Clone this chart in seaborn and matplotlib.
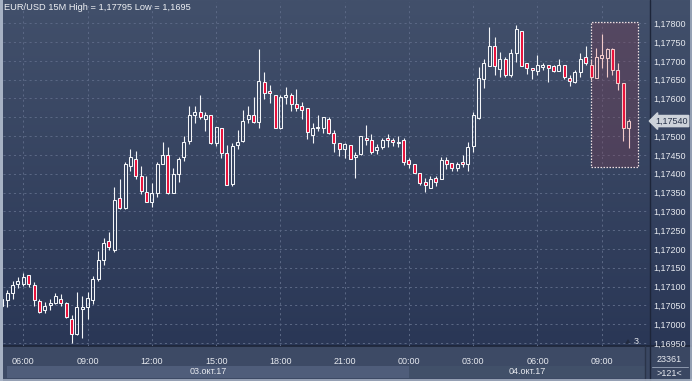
import numpy as np
import pandas as pd
import matplotlib
matplotlib.use("Agg")
import matplotlib.pyplot as plt
import matplotlib.transforms as mtransforms
from matplotlib.patches import Rectangle, Polygon
import seaborn as sns

# ---------------- data ----------------
title_text = "EUR/USD 15M High = 1,17795 Low = 1,1695"
start_time = "2017-10-03 05:00"

open_ = [1.17049, 1.17063, 1.17083, 1.17108, 1.17107, 1.17130, 1.17103, 1.17062, 1.17038, 1.17050,
         1.17055, 1.17068, 1.17056, 1.17013, 1.16973, 1.17041, 1.17045, 1.17064, 1.17119, 1.17170,
         1.17220, 1.17198, 1.17335, 1.17308, 1.17420, 1.17438, 1.17393, 1.17352, 1.17324, 1.17350,
         1.17425, 1.17449, 1.17350, 1.17398, 1.17444, 1.17488, 1.17555, 1.17563, 1.17545, 1.17556,
         1.17482, 1.17521, 1.17454, 1.17372, 1.17476, 1.17488, 1.17545, 1.17555, 1.17538, 1.17645,
         1.17620, 1.17608, 1.17521, 1.17603, 1.17608, 1.17585, 1.17579, 1.17574, 1.17504, 1.17521,
         1.17522, 1.17545, 1.17509, 1.17482, 1.17465, 1.17476, 1.17444, 1.17453, 1.17494, 1.17490,
         1.17464, 1.17470, 1.17494, 1.17490, 1.17482, 1.17490, 1.17436, 1.17425, 1.17403, 1.17379,
         1.17363, 1.17389, 1.17385, 1.17436, 1.17429, 1.17414, 1.17430, 1.17425, 1.17474, 1.17549,
         1.17652, 1.17687, 1.17740, 1.17678, 1.17704, 1.17663, 1.17720, 1.17780, 1.17694, 1.17680,
         1.17674, 1.17685, 1.17689, 1.17686, 1.17674, 1.17689, 1.17655, 1.17645, 1.17670, 1.17710,
         1.17689, 1.17654, 1.17709, 1.17709, 1.17732, 1.17676, 1.17640, 1.17521]
high = [1.17075, 1.17092, 1.17115, 1.17126, 1.17135, 1.17130, 1.17113, 1.17068, 1.17059, 1.17066,
        1.17082, 1.17080, 1.17059, 1.17024, 1.17085, 1.17075, 1.17086, 1.17129, 1.17194, 1.17228,
        1.17246, 1.17365, 1.17385, 1.17432, 1.17465, 1.17460, 1.17420, 1.17394, 1.17374, 1.17432,
        1.17485, 1.17470, 1.17414, 1.17444, 1.17500, 1.17580, 1.17580, 1.17609, 1.17563, 1.17556,
        1.17523, 1.17521, 1.17476, 1.17481, 1.17516, 1.17569, 1.17580, 1.17605, 1.17731, 1.17670,
        1.17636, 1.17608, 1.17609, 1.17630, 1.17614, 1.17624, 1.17591, 1.17574, 1.17534, 1.17556,
        1.17552, 1.17552, 1.17516, 1.17482, 1.17482, 1.17476, 1.17458, 1.17501, 1.17530, 1.17506,
        1.17479, 1.17494, 1.17506, 1.17494, 1.17500, 1.17494, 1.17443, 1.17425, 1.17403, 1.17388,
        1.17395, 1.17395, 1.17445, 1.17444, 1.17429, 1.17432, 1.17450, 1.17485, 1.17565, 1.17685,
        1.17704, 1.17791, 1.17764, 1.17724, 1.17711, 1.17731, 1.17795, 1.17780, 1.17694, 1.17680,
        1.17716, 1.17695, 1.17689, 1.17689, 1.17705, 1.17689, 1.17663, 1.17676, 1.17720, 1.17740,
        1.17702, 1.17734, 1.17772, 1.17734, 1.17734, 1.17694, 1.17640, 1.17545]
low = [1.17043, 1.17045, 1.17068, 1.17097, 1.17101, 1.17098, 1.17049, 1.17029, 1.17029, 1.17037,
       1.17053, 1.17048, 1.17016, 1.16950, 1.16971, 1.16964, 1.17013, 1.17053, 1.17115, 1.17157,
       1.17197, 1.17192, 1.17305, 1.17305, 1.17408, 1.17385, 1.17345, 1.17324, 1.17312, 1.17339,
       1.17425, 1.17345, 1.17348, 1.17379, 1.17434, 1.17479, 1.17534, 1.17545, 1.17514, 1.17478,
       1.17474, 1.17443, 1.17369, 1.17367, 1.17465, 1.17483, 1.17534, 1.17534, 1.17522, 1.17599,
       1.17589, 1.17521, 1.17518, 1.17585, 1.17568, 1.17568, 1.17545, 1.17493, 1.17482, 1.17514,
       1.17509, 1.17506, 1.17458, 1.17447, 1.17441, 1.17438, 1.17389, 1.17450, 1.17476, 1.17453,
       1.17452, 1.17465, 1.17470, 1.17474, 1.17471, 1.17423, 1.17414, 1.17403, 1.17370, 1.17352,
       1.17363, 1.17368, 1.17385, 1.17412, 1.17408, 1.17408, 1.17419, 1.17407, 1.17458, 1.17545,
       1.17627, 1.17687, 1.17663, 1.17658, 1.17658, 1.17658, 1.17698, 1.17686, 1.17664, 1.17652,
       1.17663, 1.17676, 1.17645, 1.17670, 1.17674, 1.17652, 1.17634, 1.17640, 1.17658, 1.17689,
       1.17649, 1.17654, 1.17680, 1.17658, 1.17663, 1.17623, 1.17487, 1.17469]
close = [1.17068, 1.17084, 1.17103, 1.17114, 1.17124, 1.17108, 1.17064, 1.17033, 1.17049, 1.17055,
         1.17075, 1.17057, 1.17019, 1.16974, 1.17045, 1.17045, 1.17069, 1.17119, 1.17170, 1.17216,
         1.17204, 1.17330, 1.17308, 1.17425, 1.17444, 1.17394, 1.17354, 1.17324, 1.17350, 1.17425,
         1.17449, 1.17350, 1.17398, 1.17438, 1.17483, 1.17556, 1.17563, 1.17550, 1.17555, 1.17482,
         1.17523, 1.17454, 1.17369, 1.17474, 1.17483, 1.17540, 1.17555, 1.17538, 1.17647, 1.17614,
         1.17614, 1.17521, 1.17603, 1.17608, 1.17585, 1.17574, 1.17569, 1.17510, 1.17521, 1.17525,
         1.17550, 1.17509, 1.17482, 1.17465, 1.17478, 1.17438, 1.17449, 1.17499, 1.17489, 1.17458,
         1.17471, 1.17489, 1.17489, 1.17483, 1.17484, 1.17430, 1.17425, 1.17403, 1.17374, 1.17369,
         1.17385, 1.17379, 1.17436, 1.17425, 1.17414, 1.17426, 1.17425, 1.17472, 1.17556, 1.17654,
         1.17694, 1.17740, 1.17686, 1.17704, 1.17663, 1.17722, 1.17784, 1.17686, 1.17680, 1.17676,
         1.17689, 1.17689, 1.17680, 1.17674, 1.17689, 1.17658, 1.17647, 1.17670, 1.17705, 1.17694,
         1.17658, 1.17710, 1.17716, 1.17732, 1.17676, 1.17640, 1.17521, 1.17540]

time_tick_labels = ["06:00", "09:00", "12:00", "15:00", "18:00", "21:00",
                    "00:00", "03:00", "06:00", "09:00"]
date_labels = ["03.окт.17", "04.окт.17"]
price_ticks = [1.16950, 1.17000, 1.17050, 1.17100, 1.17150, 1.17200, 1.17250, 1.17300, 1.17350,
               1.17400, 1.17450, 1.17500, 1.17550, 1.17600, 1.17650, 1.17700, 1.17750, 1.17800]
last_price = 1.17540
highlight_first, highlight_last = 110, 117
highlight_top, highlight_bottom = 1.17804, 1.17419
footer_top, footer_bottom = "23361", ">121<"
marker_count = "3"

# ---------------- style ----------------
sns.set_theme(style="dark")
plt.rcParams["font.family"] = ["Liberation Sans", "DejaVu Sans"]

df = pd.DataFrame({"open": open_, "high": high, "low": low, "close": close})
df["time"] = pd.date_range(start_time, periods=len(df), freq="15min")
df["idx"] = np.arange(len(df))
df["bull"] = df["close"] >= df["open"]
df["top"] = df[["open", "close"]].max(axis=1)
df["bot"] = df[["open", "close"]].min(axis=1)
df["inbox"] = (df["idx"] >= highlight_first) & (df["idx"] <= highlight_last)

RED = "#e8103a"
WHITE = "#f3f5f8"
PALE = "#f2caca"
TXT = "#e6e9ef"

W, H = 692, 381
fig = plt.figure(figsize=(W / 100, H / 100), dpi=100)

# background axes in pixel coordinates
bg = fig.add_axes([0, 0, 1, 1])
bg.set_xlim(0, W)
bg.set_ylim(H, 0)
bg.axis("off")
top_c = np.array([66, 80, 107]) / 255
bot_c = np.array([42, 55, 86]) / 255
grad = np.linspace(0, 1, 200)[:, None, None]
img = top_c * (1 - grad) + bot_c * grad
bg.imshow(img, extent=(0, W, 346, 0), aspect="auto", interpolation="bilinear", zorder=0)
# bottom bar
bg.add_patch(Rectangle((0, 346), W, H - 346, facecolor="#3d4a65", edgecolor="none", zorder=1))
bg.add_patch(Rectangle((645, 346), W - 645, H - 346, facecolor="#3a4762", edgecolor="none", zorder=1))

# main axes
ax = fig.add_axes([3 / W, 1 - 345.7 / H, 646 / W, 343.7 / H])
ax.patch.set_alpha(0)
ax.set_xlim(0.21, 120.82)
ax.set_ylim(1.169426, 1.178566)
for s in ax.spines.values():
    s.set_visible(False)

# date bands (x from data, y in pixels)
trans_xb = mtransforms.blended_transform_factory(ax.transData, bg.transData)
day_break = int(df.index[(df["time"].dt.hour == 0) & (df["time"].dt.minute == 0)][0])
band_spans = [(0.9, day_break), (day_break, 120.1)]
band_colors = ["#4f5d7a", "#415069"]
for (a, b), col, lab in zip(band_spans, band_colors, date_labels):
    bg.add_patch(Rectangle((a, 366), b - a, 12, transform=trans_xb,
                           facecolor=col, edgecolor="none", zorder=2))
    bg.text((a + b) / 2, 372, lab, transform=trans_xb, ha="center", va="center",
            fontsize=6.5, color=TXT, zorder=3)

# grid + ticks
tick_idx = df.index[(df["time"].dt.minute == 0) & (df["time"].dt.hour % 3 == 0)].tolist()
ax.set_xticks(tick_idx)
ax.set_xticklabels(time_tick_labels)
ax.set_yticks(price_ticks)
ax.set_yticklabels([f"{v:.5f}".replace(".", ",") for v in price_ticks])
ax.yaxis.tick_right()
ax.tick_params(axis="x", length=0, pad=8, labelsize=6.5, labelcolor=TXT)
ax.tick_params(axis="y", length=0, pad=3, labelsize=6.5, labelcolor=TXT)
ax.grid(True, color="#5a6784", linestyle=(0, (2, 3)), linewidth=0.75)

# highlight box
ax.add_patch(Rectangle((highlight_first - 0.1, highlight_bottom),
                       highlight_last - highlight_first + 1.9, highlight_top - highlight_bottom,
                       facecolor=(0.52, 0.23, 0.31, 0.30), edgecolor="#ecdde0",
                       linestyle=(0, (1.2, 1.2)), linewidth=0.9, zorder=2))

# candles
edge_col = np.where(df["inbox"], PALE, WHITE)
ax.vlines(df["idx"], df["top"], df["high"], colors=edge_col, linewidth=0.8, zorder=3)
ax.vlines(df["idx"], df["low"], df["bot"], colors=edge_col, linewidth=0.8, zorder=3)
heights = np.maximum(df["top"] - df["bot"], 0.00002)
face = np.where(df["bull"], "none", RED)
ax.bar(df["idx"], heights, bottom=df["bot"], width=0.56, color=face,
       edgecolor=edge_col, linewidth=0.75, zorder=4)

# last price marker
ax.text(1.0095, last_price, f"{last_price:.5f}".replace(".", ","),
        transform=ax.get_yaxis_transform(), ha="left", va="center", fontsize=6.5,
        color="#27324a", zorder=10, clip_on=False,
        bbox=dict(boxstyle="larrow,pad=0.12", facecolor="#cdd2da", edgecolor="#cdd2da"))

# title
bg.text(4, 8, title_text, ha="left", va="center", fontsize=6.7, color="#eef0f4", zorder=5)

# small count marker
bg.add_patch(Polygon([[625, 344], [631, 344], [628, 339]], closed=True,
                     facecolor="#222b40", edgecolor="none", zorder=5))
bg.text(636, 341.5, marker_count, ha="center", va="center", fontsize=6.5, color=TXT, zorder=5)

# separators / frame
bg.plot([649.5, 649.5], [0, H], color="#1d2539", linewidth=1.0, zorder=6)
bg.plot([0, W], [346, 346], color="#1d2539", linewidth=1.2, zorder=6)
bg.plot([645, 645], [346, H], color="#2a3449", linewidth=1.0, zorder=6)
bg.plot([652, 688], [366.5, 366.5], color="#8d99ae", linewidth=0.7, zorder=6)
bg.text(669, 359.5, footer_top, ha="center", va="center", fontsize=6.5, color=TXT, zorder=6)
bg.text(669, 373.5, footer_bottom, ha="center", va="center", fontsize=6.5, color=TXT, zorder=6)
bg.add_patch(Rectangle((0, 0), 2.5, H, facecolor="#a7b2c4", edgecolor="none", zorder=7))
bg.plot([0, W], [H - 0.8, H - 0.8], color="#a7b2c4", linewidth=1.2, zorder=7)
bg.plot([W - 0.8, W - 0.8], [0, H], color="#a7b2c4", linewidth=1.2, zorder=7)

fig.savefig("out.png", dpi=100)
